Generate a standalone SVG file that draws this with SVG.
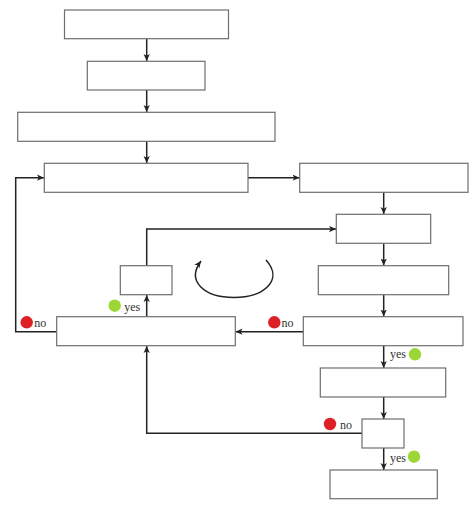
<svg xmlns="http://www.w3.org/2000/svg" width="474" height="505" viewBox="0 0 474 505">
<defs>
<marker id="ah" viewBox="0 0 10 10" refX="10" refY="5" markerWidth="7" markerHeight="7" markerUnits="userSpaceOnUse" orient="auto">
<path d="M0,0.5 L10,5 L0,9.5 L2.5,5 z" fill="#222"/>
</marker>
<style>
.box{fill:#fff;stroke:#6e6e6e;stroke-width:1.2}
.ln{fill:none;stroke:#222;stroke-width:1.5}
.lbl{font-family:"Liberation Serif",serif;font-size:12px;fill:#333}
.red{fill:#dd1f26}
.grn{fill:#9bd634}
</style>
</defs>
<rect width="474" height="505" fill="#fff"/>
<g id="connectors">
<path class="ln" d="M146.7,38.7 V61" marker-end="url(#ah)"/>
<path class="ln" d="M146.7,90 V112" marker-end="url(#ah)"/>
<path class="ln" d="M146.7,141.3 V163" marker-end="url(#ah)"/>
<path class="ln" d="M248,177.7 H299.5" marker-end="url(#ah)"/>
<path class="ln" d="M383.7,192.3 V214" marker-end="url(#ah)"/>
<path class="ln" d="M383.7,243.3 V265.5" marker-end="url(#ah)"/>
<path class="ln" d="M383.7,294.7 V316.5" marker-end="url(#ah)"/>
<path class="ln" d="M303.3,331.7 H235.5" marker-end="url(#ah)"/>
<path class="ln" d="M56.7,331.7 H15.7 V177.7 H44" marker-end="url(#ah)"/>
<path class="ln" d="M146.7,316.7 V295" marker-end="url(#ah)"/>
<path class="ln" d="M146.7,265.7 V229 H336" marker-end="url(#ah)"/>
<path class="ln" d="M383.7,345.7 V368" marker-end="url(#ah)"/>
<path class="ln" d="M383.7,397 V419" marker-end="url(#ah)"/>
<path class="ln" d="M362,433.3 H146.7 V346" marker-end="url(#ah)"/>
<path class="ln" d="M383.7,448 V470" marker-end="url(#ah)"/>
<path class="ln" d="M266,260 C284,280 264,297.5 234,297.5 C204,297.5 186,281 201,261" marker-end="url(#ah)"/>
</g>
<g id="n1"><rect class="box" x="64.5" y="10" width="164" height="28.7"/></g>
<g id="n2"><rect class="box" x="87.3" y="61.3" width="117.7" height="28.7"/></g>
<g id="n3"><rect class="box" x="17.7" y="112.3" width="257.3" height="29"/></g>
<g id="n4"><rect class="box" x="44.3" y="163.3" width="203.7" height="29"/></g>
<g id="n5"><rect class="box" x="299.7" y="163.3" width="168.3" height="29"/></g>
<g id="n6"><rect class="box" x="336.3" y="214.3" width="94.4" height="29"/></g>
<g id="n7"><rect class="box" x="120.3" y="265.7" width="51.7" height="29"/></g>
<g id="n8"><rect class="box" x="318.3" y="265.7" width="130.4" height="29"/></g>
<g id="n9"><rect class="box" x="56.7" y="316.7" width="178.6" height="29"/></g>
<g id="n10"><rect class="box" x="303.3" y="316.7" width="159.7" height="29"/></g>
<g id="n11"><rect class="box" x="320.3" y="368" width="125.4" height="29"/></g>
<g id="n12"><rect class="box" x="362" y="419" width="42" height="29"/></g>
<g id="n13"><rect class="box" x="330" y="470" width="107.3" height="28.7"/></g>
<g id="labels">
<circle class="red" cx="26.7" cy="322.3" r="6.2"/>
<text class="lbl" x="34.3" y="326.5">no</text>
<circle class="red" cx="274.3" cy="322.3" r="6.2"/>
<text class="lbl" x="281.5" y="326.5">no</text>
<circle class="grn" cx="114.7" cy="305.7" r="6.2"/>
<text class="lbl" x="124.3" y="310.5">yes</text>
<text class="lbl" x="390" y="358.3">yes</text>
<circle class="grn" cx="415" cy="354.3" r="6.2"/>
<circle class="red" cx="330" cy="424" r="6.2"/>
<text class="lbl" x="340" y="429.3">no</text>
<text class="lbl" x="390" y="461.5">yes</text>
<circle class="grn" cx="414" cy="456.7" r="6.2"/>
</g>
</svg>
